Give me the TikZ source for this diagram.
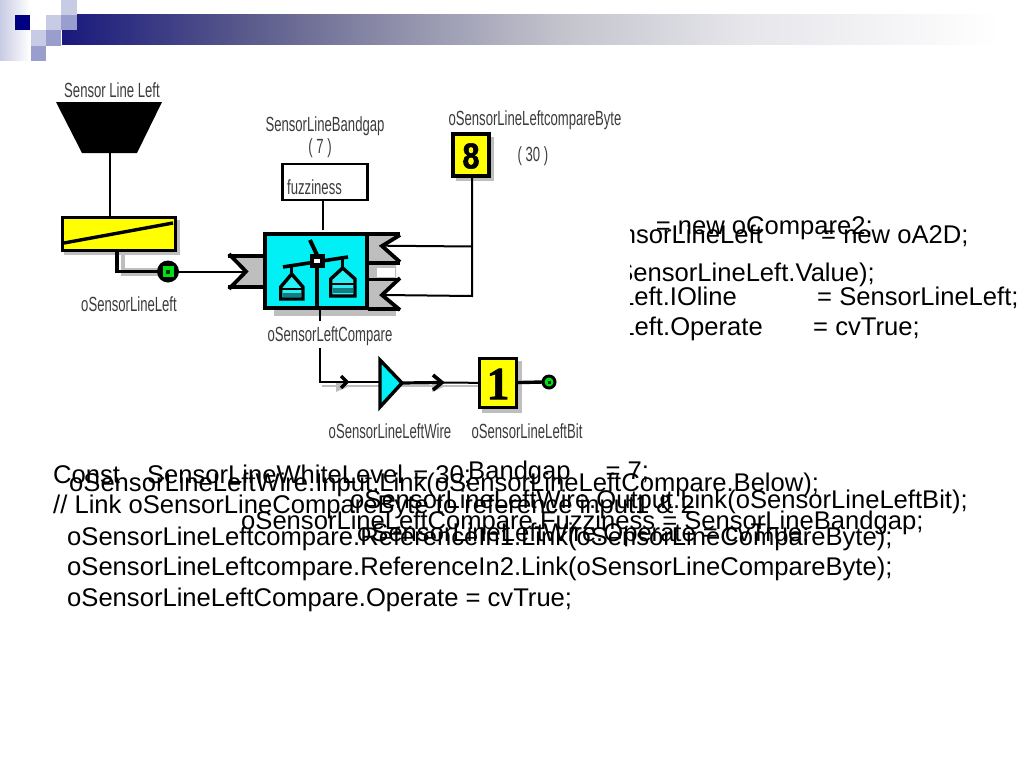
\documentclass[tikz,border=0pt]{standalone}
\usepackage{fontspec}
\setmainfont{Liberation Sans}
\newfontfamily\labfont[FakeStretch=0.64]{Liberation Sans}
\newfontfamily\serifone[FakeBold=1.5]{Liberation Serif Bold}
\newfontfamily\heavyeight[FakeStretch=0.85,FakeBold=1.5]{Liberation Sans Bold}
\usetikzlibrary{calc}
\definecolor{navy}{RGB}{0,0,128}
\definecolor{banda}{RGB}{25,25,125}
\definecolor{bandb}{RGB}{90,90,140}
\definecolor{bandc}{RGB}{135,135,165}
\definecolor{bandd}{RGB}{195,195,205}
\definecolor{bande}{RGB}{230,230,235}
\definecolor{bluea}{RGB}{200,203,228}
\definecolor{blueb}{RGB}{153,158,206}
\definecolor{cyanb}{RGB}{0,240,245}
\definecolor{teal2}{RGB}{20,125,130}
\definecolor{yel}{RGB}{255,255,0}
\definecolor{grn}{RGB}{0,225,20}
\definecolor{shad}{RGB}{190,190,190}
\definecolor{labc}{RGB}{60,60,60}
\tikzset{
  code/.style={anchor=base west,inner sep=0pt,font=\fontsize{25.6}{30}\selectfont,text=black},
  lab/.style={inner sep=0pt,font=\labfont\fontsize{20.5}{22}\selectfont,text=labc},
  ln/.style={line width=2pt,draw=black},
  thick2/.style={line width=3.4pt,draw=black},
  ybox/.style={draw=black,line width=3.4pt,fill=yel},
  bk/.style={line width=3.8pt,draw=black},
  pan/.style={line width=3.4pt,draw=black,fill=cyanb!85!white,line join=miter}
}
\begin{document}
\begin{tikzpicture}[x=1pt,y=-1pt]
\useasboundingbox (0,0) rectangle (1024,768);
\fill[white] (0,0) rectangle (1024,768);
% slide decoration
\shade[left color=bluea,right color=white] (0,0) rectangle (30,60);
\shade[left color=banda,right color=bandb] (62,15) rectangle (247.5,45);
\shade[left color=bandb,right color=bandc] (247,15) rectangle (372.5,45);
\shade[left color=bandc,right color=bandd] (372,15) rectangle (560.5,45);
\shade[left color=bandd,right color=bande] (560,15) rectangle (747.5,45);
\shade[left color=bande,right color=white] (747,15) rectangle (1000,45);
\fill[white] (30,0) rectangle (62,15);
\fill[white] (30,15) rectangle (46,30);
\fill[navy] (15,15) rectangle (30,30);
\fill[bluea] (46,15) rectangle (61,30);
\fill[blueb] (61,15) rectangle (77,30);
\fill[bluea] (61,0) rectangle (77,15);
\fill[bluea] (31,30) rectangle (46,46);
\fill[blueb] (46,30) rectangle (61,46);
\fill[blueb] (31,46) rectangle (46,61);
% code text, first layer
\node[code] (c1) at (53,483) {Const\hspace{27pt}SensorLineWhiteLevel\hspace{3pt} = 30;};
\node[code] (c2) at (53,513) {// Link oSensorLineCompareByte to reference input1 \& 2};
\node[code] (c3) at (67,545) {oSensorLineLeftcompare.ReferenceIn1.Link(oSensorLineCompareByte);};
\node[code] (c4) at (67,575.5) {oSensorLineLeftcompare.ReferenceIn2.Link(oSensorLineCompareByte);};
\node[code] (c5) at (67,606) {oSensorLineLeftCompare.Operate = cvTrue;};
\node[code] (c6) at (69,491) {oSensorLineLeftWire.Input.Link(oSensorLineLeftCompare.Below);};
\node[code] (c7) at (350,508) {oSensorLineLeftWire.Output.Link(oSensorLineLeftBit);};
\node[code] (c8) at (241,529) {oSensorLineLeftCompare.Fuzziness = SensorLineBandgap;};
\node[code] (c9) at (357,541) {oSensorLineLeftWire.Operate = cvTrue;};
\node[code] (c10) at (468,479) {Bandgap\hspace{35pt}= 7;};
% code text, upper right, cut off by the picture
\begin{scope}
\clip (630,200) rectangle (1024,350);
\node[code,anchor=base east] (t1) at (873,234) {= new oCompare2;};
\node[code,anchor=base east] (t2) at (763,243) {nsorLineLeft};
\node[code] (t2b) at (821,243) {= new oA2D;};
\node[code,anchor=base east] (t3) at (875,281) {SensorLineLeft.Value);};
\node[code,anchor=base east] (t4) at (737,305) {Left.IOline};
\node[code] (t4b) at (817,305) {= SensorLineLeft;};
\node[code,anchor=base east] (t5) at (763,335) {Left.Operate};
\node[code] (t5b) at (813,335) {= cvTrue;};
\end{scope}
% diagram labels
\node[lab] (l1) at (112,90) {Sensor Line Left};
\node[lab] (l2) at (129,304) {oSensorLineLeft};
\node[lab] (l3) at (325,126) {SensorLineBandgap};
\node[lab] (l4) at (320,148) {( 7 )};
\node[lab] (l5) at (535,120) {oSensorLineLeftcompareByte};
\node[lab] (l6) at (533,156) {( 30 )};
\node[lab] (l8) at (390,431) {oSensorLineLeftWire};
\node[lab] (l9) at (527,431) {oSensorLineLeftBit};
% sensor
\coordinate (senstop) at (110,153);
\fill[black] (56,102) -- (162,102) -- (137,153) -- (82,153) -- cycle;
\fill[shad] (64,220) rectangle (180,255);
\fill[shad] (121,252) rectangle (125,268);
\fill[shad] (121,268) rectangle (160,276);
\node[ybox,minimum width=113pt,minimum height=33pt,inner sep=0pt] (a2d) at (118.7,234) {};
\draw[line width=3.4pt] (64,243) -- (173,223);
\draw[ln] (senstop) -- (a2d.north -| senstop);
\coordinate (dotc) at (168,271.5);
\draw[thick2] (a2d.south -| 117,0) |- (dotc);
\node[fill=black,circle,minimum size=22pt,inner sep=0] (dot) at (dotc) {};
\node[fill=grn,minimum size=11pt,inner sep=0] (dotin) at (dot) {};
\fill[black!80!green] (166,269.5) rectangle (170,273.5);
% connectors' grey parts
\fill[shad] (274,309) rectangle (396,316);
\fill[shad] (235,258) -- (247,271.5) -- (235,286) -- (264,286) -- (264,258) -- cycle;
\fill[shad] (369,236) -- (396,236) -- (384,246) -- (396,261) -- (396,279) -- (384,295) -- (396,309) -- (369,309) -- cycle;
\fill[white] (377,268) rectangle (395,277);
% cyan box
\node[draw=black,line width=3.8pt,fill=cyanb,minimum width=102pt,minimum height=74pt,inner sep=0pt] (cmp) at (316.3,271) {};
% left connector
\draw[bk] (228,256) -- (264,256);
\draw[bk] (228,287) -- (264,287);
\draw[bk] (229,254) -- (246,271.5) -- (229,289);
\node[inner sep=0,minimum size=0pt] (inL) at (243,271.5) {};
\draw[ln] (dot) -- (inL);
% right connectors
\draw[bk] (368,234) -- (400,234);
\draw[bk] (400,235) -- (382,246) -- (400,262);
\draw[bk] (368,263) -- (400,263);
\draw[bk] (368,279.5) -- (400,279.5);
\draw[bk] (400,278) -- (382,295) -- (400,310);
\draw[bk] (368,309) -- (400,309);
% balance icon
\draw[line width=3.6pt] (283,267) -- (348,257);
\draw[line width=4pt] (310,240) -- (317,255);
\draw[line width=4pt] (317,258) -- (317,309);
\fill[black] (310,254) rectangle (325,268);
\fill[white] (314,259) rectangle (320,263);
\draw[line width=2.6pt] (291.7,266) -- (291.7,274);
\draw[line width=2.6pt] (342.7,257) -- (342.7,268);
\draw[pan] (291.7,274) -- (303,287) -- (303,299) -- (280.7,299) -- (280.7,287) -- cycle;
\draw[pan] (342.7,268) -- (355,279) -- (355,296) -- (330.7,296) -- (330.7,279) -- cycle;
\fill[teal2] (283,292.5) rectangle (301,297);
\fill[teal2] (333,287.5) rectangle (353,293);
\draw[line width=2.6pt] (281,289) -- (303,289);
\draw[line width=2.6pt] (331,284) -- (355,284);
% fuzziness
\node[draw=black,line width=2.4pt,fill=white,minimum width=85pt,minimum height=36pt,inner sep=0pt] (fuzz) at (325,182) {};
\node[lab,anchor=west] (fuzzt) at (287,187) {fuzziness};
\draw[ln] (323,200) -- (323,230);
% byte box
\fill[shad] (456,137) rectangle (494,181);
\node[ybox,minimum width=36pt,minimum height=42pt,inner sep=0pt] (byte) at (471,155) {};
\node[inner sep=0,font=\heavyeight\fontsize{36}{40}\selectfont] (byte8) at (471,156) {8};
\coordinate (bjoin) at (472,246.5);
\coordinate (bend) at (472,296);
\draw[ln] (byte.south -| bjoin) -- (bend) -- (383,295);
\draw[ln] (bjoin) -- (383,245.7);
% output wire
\coordinate (wirec) at (320,381.7);
\fill[shad] (322,384.5) rectangle (478,387);
\fill[shad] (336,381) -- (350,386) -- (336,392) -- cycle;
\fill[shad] (432,381) -- (446,386) -- (432,392) -- cycle;
\node[lab,fill=white,inner ysep=3pt,inner xsep=0pt] (l7) at (330,336) {oSensorLeftCompare};
\draw[line width=2.4pt] (320,310) -- (320,321);
\draw[line width=2.4pt] (320,348) -- (wirec) -- (380,381.7);
\draw[line width=3.4pt] (341,376) -- (347,382) -- (341,388);
\draw[line width=3.4pt,fill=cyanb] (380,360) -- (402,383) -- (380,407) -- cycle;
\draw[line width=3.2pt] (402,383) -- (440,382.5);
\draw[line width=3.6pt] (433,375) -- (442,382.5) -- (433,390);
% bit
\fill[shad] (482,361) rectangle (522,413);
\node[ybox,minimum width=37pt,minimum height=49pt,inner sep=0pt] (bit) at (498,383) {};
\node[inner sep=0,font=\serifone\fontsize{46}{48}\selectfont] (bit1) at (498,384) {1};
\draw[ln] (440,382.5) -- (bit);
\draw[thick2] (bit) -- (543,382);
\node[fill=black,circle,minimum size=15pt,inner sep=0] (dot2) at (549,382) {};
\node[fill=grn,circle,minimum size=9pt,inner sep=0] (dot2in) at (549,382) {};
\fill[black!80!green] (547.5,380.5) rectangle (550.5,383.5);
\end{tikzpicture}
\end{document}
